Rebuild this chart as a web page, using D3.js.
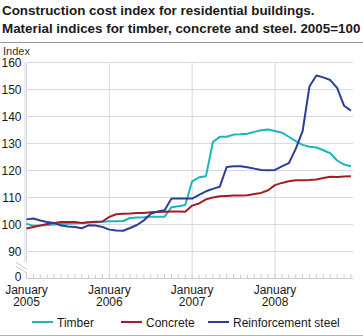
<!DOCTYPE html>
<html>
<head>
<meta charset="utf-8">
<script src="https://cdn.jsdelivr.net/npm/d3@7"></script>
<style>
  body { margin: 0; background: #fff; }
  svg { display: block; font-family: "Liberation Sans", Arial, sans-serif; }
</style>
</head>
<body>
<div id="chart"></div>
<script>
// Monthly index values, January 2005 - December 2008 (2005=100)
var months = d3.range(48); // month index from January 2005
var yearLabels = ["2005", "2006", "2007", "2008"];
var yTicks = [80, 90, 100, 110, 120, 130, 140, 150, 160];
var yTickLabels = ["0", "90", "100", "110", "120", "130", "140", "150", "160"];

var timber = [100.3, 99.5, 99.6, 99.8, 100.0, 100.2, 100.3, 100.5, 100.6, 100.7, 100.8, 101.0,
              101.2, 101.2, 101.3, 102.4, 102.6, 102.7, 102.9, 102.9, 102.9, 106.4, 106.8, 107.2,
              116.0, 117.5, 117.9, 130.5, 132.5, 132.5, 133.3, 133.4, 133.6, 134.3, 134.9, 135.2,
              134.6, 134.0, 132.5, 130.9, 129.5, 128.8, 128.5, 127.5, 126.4, 123.7, 122.2, 121.6];

var concrete = [98.5, 99.1, 99.6, 100.2, 100.6, 100.9, 100.9, 100.9, 100.6, 100.8, 101.0, 101.1,
                102.8, 103.8, 104.0, 104.1, 104.3, 104.3, 104.5, 104.6, 104.7, 104.8, 104.8, 104.7,
                107.0, 107.8, 109.3, 110.0, 110.5, 110.6, 110.7, 110.7, 110.8, 111.3, 111.7, 112.7,
                114.6, 115.4, 116.0, 116.4, 116.4, 116.5, 116.7, 117.2, 117.7, 117.6, 117.8, 117.9];

var steel = [101.9, 102.2, 101.5, 100.9, 100.6, 99.6, 99.3, 99.1, 98.6, 99.7, 99.6, 99.1,
             98.1, 97.8, 97.7, 98.7, 99.8, 101.5, 104.0, 104.8, 105.3, 109.6, 109.6, 109.6,
             109.6, 111.0, 112.3, 113.2, 114.0, 121.3, 121.6, 121.6, 121.2, 120.7, 120.2, 120.1,
             120.2, 121.5, 122.7, 128.0, 134.6, 151.2, 155.2, 154.5, 153.5, 150.6, 144.0, 142.2];

var seriesNames = ["Timber", "Concrete", "Reinforcement steel"];
var seriesColors = ["#1ab4c2", "#a31e22", "#2b3f96"];
var seriesData = [timber, concrete, steel];

var width = 363, height = 336;
var gridColor = "#d6d9df";
var textColor = "#1a1a1a";

var svg = d3.select("#chart").append("svg")
    .attr("width", width)
    .attr("height", height);

// Title
var title = svg.append("text")
    .attr("x", 2)
    .attr("fill", textColor)
    .style("font-weight", "bold")
    .style("font-size", "13.4px");
title.append("tspan").attr("x", 2).attr("y", 15)
    .text("Construction cost index for residential buildings.");
title.append("tspan").attr("x", 2).attr("y", 33)
    .text("Material indices for timber, concrete and steel. 2005=100");

svg.append("line")
    .attr("x1", 0).attr("x2", width)
    .attr("y1", 42.5).attr("y2", 42.5)
    .attr("stroke", "#9a9a9a");

svg.append("text")
    .attr("x", 3).attr("y", 55)
    .attr("fill", "#333")
    .style("font-size", "11px")
    .text("Index");

// Scales
var x = d3.scaleLinear().domain([0, 47.3]).range([26.5, 353]);
var y = d3.scaleLinear().domain([80, 160]).range([278.5, 62.5]);

var plot = svg.append("g");

// Horizontal grid
plot.selectAll(".hgrid")
    .data(yTicks.filter(function(d) { return d >= 90; }))
    .enter().append("line")
    .attr("class", "hgrid")
    .attr("x1", x(0)).attr("x2", x(47.3))
    .attr("y1", function(d) { return y(d); })
    .attr("y2", function(d) { return y(d); })
    .attr("stroke", gridColor);

// Vertical grid at each January
plot.selectAll(".vgrid")
    .data([12, 24, 36])
    .enter().append("line")
    .attr("class", "vgrid")
    .attr("x1", function(d) { return x(d); })
    .attr("x2", function(d) { return x(d); })
    .attr("y1", y(160)).attr("y2", y(80))
    .attr("stroke", gridColor);

// Left axis with a break below 90
plot.append("line")
    .attr("x1", x(0) - 1.5).attr("x2", x(0) - 1.5)
    .attr("y1", y(160)).attr("y2", y(86))
    .attr("stroke", gridColor);
plot.append("line")
    .attr("x1", x(0)).attr("x2", x(0))
    .attr("y1", y(160)).attr("y2", y(86))
    .attr("stroke", gridColor);
plot.append("line")
    .attr("x1", x(0)).attr("x2", x(0))
    .attr("y1", y(82)).attr("y2", y(80))
    .attr("stroke", gridColor);
[0, 4].forEach(function(off) {
    plot.append("line")
        .attr("x1", 16).attr("y1", y(86) + off)
        .attr("x2", 27).attr("y2", y(86) + off + 7)
        .attr("stroke", "#bfc3ca");
});

// Bottom axis with monthly ticks
plot.append("line")
    .attr("x1", x(0)).attr("x2", x(47.3))
    .attr("y1", y(80)).attr("y2", y(80))
    .attr("stroke", "#c8ccd3");
plot.selectAll(".mtick")
    .data(months)
    .enter().append("line")
    .attr("class", "mtick")
    .attr("x1", function(d) { return x(d); })
    .attr("x2", function(d) { return x(d); })
    .attr("y1", y(80) - 4).attr("y2", y(80))
    .attr("stroke", "#c8ccd3");

// Y tick labels (the "0" sits a little higher, clear of the month labels)
svg.selectAll(".ylab")
    .data(yTicks)
    .enter().append("text")
    .attr("class", "ylab")
    .attr("x", 21.5)
    .attr("y", function(d) { return y(d); })
    .attr("dy", function(d) { return d === 80 ? "0.2em" : "0.38em"; })
    .attr("text-anchor", "end")
    .attr("fill", textColor)
    .style("font-size", "12px")
    .text(function(d, i) { return yTickLabels[i]; });

// X tick labels
var xl = svg.selectAll(".xlab")
    .data(yearLabels)
    .enter().append("text")
    .attr("class", "xlab")
    .attr("text-anchor", "middle")
    .attr("fill", textColor)
    .style("font-size", "12px");
xl.append("tspan")
    .attr("x", function(d, i) { return x(i * 12); })
    .attr("y", 294)
    .text("January");
xl.append("tspan")
    .attr("x", function(d, i) { return x(i * 12); })
    .attr("y", 306)
    .text(function(d) { return d; });

// Lines
var line = d3.line()
    .x(function(d, i) { return x(months[i]); })
    .y(function(d) { return y(d); });

plot.selectAll(".series")
    .data(seriesData)
    .enter().append("path")
    .attr("class", "series")
    .attr("d", line)
    .attr("fill", "none")
    .attr("stroke", function(d, i) { return seriesColors[i]; })
    .attr("stroke-width", 2)
    .attr("stroke-linejoin", "round");

// Legend
var legendX = [32, 121, 208];
var legend = svg.selectAll(".legend")
    .data(seriesNames)
    .enter().append("g")
    .attr("class", "legend")
    .attr("transform", function(d, i) { return "translate(" + legendX[i] + ",322)"; });
legend.append("line")
    .attr("x1", 0).attr("x2", 21)
    .attr("stroke", function(d, i) { return seriesColors[i]; })
    .attr("stroke-width", 2);
legend.append("text")
    .attr("x", 25).attr("y", 4.5)
    .attr("fill", textColor)
    .style("font-size", "12px")
    .text(function(d) { return d; });

svg.append("line")
    .attr("x1", 0).attr("x2", width)
    .attr("y1", 335.5).attr("y2", 335.5)
    .attr("stroke", "#b0b0b0");
</script>
</body>
</html>
